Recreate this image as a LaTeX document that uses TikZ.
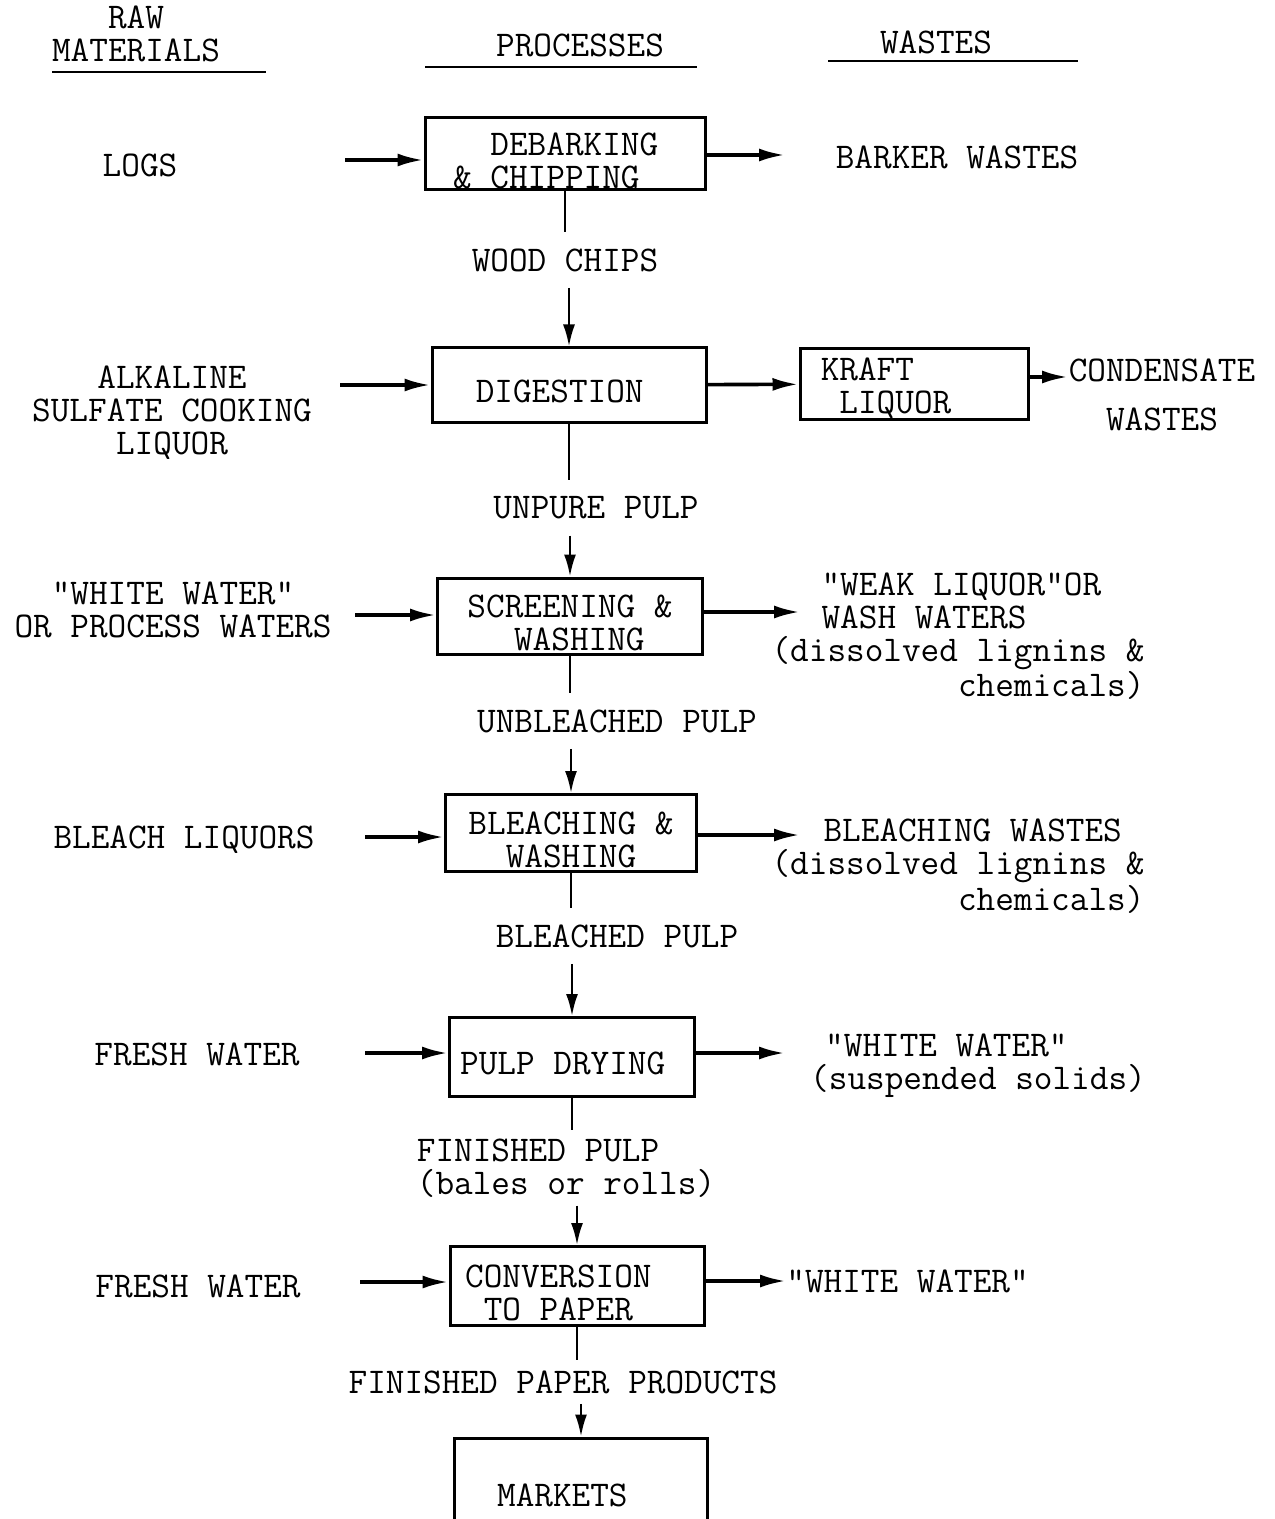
\documentclass[tikz,border=0pt]{standalone}
\usepackage{fontspec}
\usetikzlibrary{arrows.meta}
\newcommand\boxstrut[1][18pt]{\rule{0pt}{#1}}

\begin{document}
\begin{tikzpicture}[x=0.5pt,y=-0.5pt,
txt/.style={font=\ttfamily\fontsize{18.1}{16.5}\selectfont, inner sep=0pt, align=center},
flow/.style={txt, inner ysep=8pt},
procbox/.style={txt, draw, line width=1.5pt},
feed/.style={line width=1.8pt, -{Latex[length=13pt,width=6.5pt]}},
shaft/.style={line width=1.2pt},
drop/.style={line width=1.2pt, -{Latex[length=11pt,width=6pt]}},
rule/.style={line width=1.4pt},
]
\useasboundingbox (0,0) rectangle (1274,1519);
\clip (0,0) rectangle (1274,1519);

% column heads
\node[txt] (rawhead) at (136,34) {RAW\\MATERIALS};
\node[txt] (prochead) at (580,45) {PROCESSES};
\node[txt] (wastehead) at (936,42) {WASTES};
\draw[rule] (52,72) -- (266,72);
\draw[rule] (425,67) -- (697,67);
\draw[rule] (828,61) -- (1078,61);

% process boxes
\node[procbox, align=left, minimum width=140pt, minimum height=36pt] (debark) at (565,154) {\boxstrut\phantom{xx}DEBARKING\phantom{x}\\\& CHIPPING};
\node[procbox, minimum width=137pt, minimum height=37pt] (digest) at (569,385) {\boxstrut DIGESTION\phantom{x}};
\node[procbox, align=left, minimum width=114pt, minimum height=34pt] (kraft) at (914,384) {\boxstrut[16pt]KRAFT\\\phantom{x}LIQUOR\phantom{xxx}};
\node[procbox, minimum width=132.5pt, minimum height=38pt] (screen) at (570,616) {\boxstrut SCREENING \&\\\phantom{x}WASHING};
\node[procbox, minimum width=125.5pt, minimum height=38.5pt] (bleach) at (571,833) {\boxstrut BLEACHING \&\\WASHING};
\node[procbox, minimum width=122.5pt, minimum height=39.5pt] (pulpdry) at (572,1057) {\boxstrut PULP DRYING\phantom{x}};
\node[procbox, align=left, minimum width=127pt, minimum height=39.5pt] (convert) at (577,1286) {\boxstrut CONVERSION\phantom{xx}\\\phantom{x}TO PAPER};
\node[procbox, minimum width=126.5pt, minimum height=51pt] (markets) at (581,1489) {\boxstrut MARKETS\phantom{xx}};

% raw materials
\node[txt] (logs) at (140,165) {LOGS};
\node[txt] (alkaline) at (172,413) {ALKALINE\\SULFATE COOKING\\LIQUOR};
\node[txt] (whitein) at (173,610) {"WHITE WATER"\\OR PROCESS WATERS};
\node[txt] (bleachliq) at (184,840) {BLEACH LIQUORS};
\node[txt] (fresh1) at (197,1054) {FRESH WATER};
\node[txt] (fresh2) at (198,1286) {FRESH WATER};

% wastes
\node[txt] (barker) at (957,157) {BARKER WASTES};
\node[txt] (condensate) at (1162,395) {CONDENSATE\\[8pt]WASTES};
\node[txt, align=left] (weakliq) at (958,636) {\hspace*{25pt}"WEAK LIQUOR"OR\\\hspace*{25pt}WASH WATERS\\(dissolved lignins \&\\\phantom{xxxxxxxxxx}chemicals)};
\node[txt, align=left] (bleachwaste) at (958,866) {\hspace*{26pt}BLEACHING WASTES\\(dissolved lignins \&\\\phantom{xxxxxxxxxx}chemicals)};
\node[txt, align=left] (whiteout) at (978,1066) {\hspace*{7.5pt}"WHITE WATER"\\(suspended solids)};
\node[txt, anchor=west] (whiteout2) at (786,1281) {"WHITE WATER"};

% intermediate products
\node[flow] (chips) at (565,260) {WOOD CHIPS};
\node[flow] (unpure) at (596,508) {UNPURE PULP};
\node[flow] (unbleached) at (617,721) {UNBLEACHED PULP};
\node[flow] (bleached) at (617,936) {BLEACHED PULP};
\node[flow, align=left, inner ysep=4pt] (finpulp) at (566,1168) {FINISHED PULP\\(bales or rolls)};
\node[flow, inner ysep=5pt] (finpaper) at (563,1382) {FINISHED PAPER PRODUCTS};

% arrow ends
\coordinate (logs-a) at (345,160);
\coordinate (barker-a) at (785,155);
\coordinate (alk-a) at (340,385);
\coordinate (cond-a) at (1068,377);
\coordinate (whitein-a) at (355,615);
\coordinate (weak-a) at (800,612);
\coordinate (bleachliq-a) at (365,837);
\coordinate (bleachw-a) at (800,835);
\coordinate (fresh1-a) at (365,1053);
\coordinate (whiteout-a) at (785,1053);
\coordinate (fresh2-a) at (360,1282);

% inputs and outputs
\draw[feed] (logs-a) -- (logs-a -| debark.west);
\draw[feed] (barker-a -| debark.east) -- (barker-a);
\draw[feed] (alk-a) -- (alk-a -| digest.west);
\draw[feed] (digest) -- (kraft);
\draw[feed] (cond-a -| kraft.east) -- (cond-a);
\draw[feed] (whitein-a) -- (whitein-a -| screen.west);
\draw[feed] (weak-a -| screen.east) -- (weak-a);
\draw[feed] (bleachliq-a) -- (bleachliq-a -| bleach.west);
\draw[feed] (bleachw-a -| bleach.east) -- (bleachw-a);
\draw[feed] (fresh1-a) -- (fresh1-a -| pulpdry.west);
\draw[feed] (whiteout-a -| pulpdry.east) -- (whiteout-a);
\draw[feed] (fresh2-a) -- (fresh2-a -| convert.west);
\draw[feed] (convert.east |- whiteout2.west) -- (whiteout2.west);

% main flow
\draw[shaft] (debark.south) -- (debark.south |- chips.north);
\draw[drop] (digest.north |- chips.south) -- (digest.north);
\draw[shaft] (digest.south) -- (digest.south |- unpure.north);
\draw[drop] (screen.north |- unpure.south) -- (screen.north);
\draw[shaft] (screen.south) -- (screen.south |- unbleached.north);
\draw[drop] (bleach.north |- unbleached.south) -- (bleach.north);
\draw[shaft] (bleach.south) -- (bleach.south |- bleached.north);
\draw[drop] (pulpdry.north |- bleached.south) -- (pulpdry.north);
\draw[shaft] (pulpdry.south) -- (pulpdry.south |- finpulp.north);
\draw[drop] (convert.north |- finpulp.south) -- (convert.north);
\draw[shaft] (convert.south) -- (convert.south |- finpaper.north);
\draw[drop] (markets.north |- finpaper.south) -- (markets.north);

\end{tikzpicture}
\end{document}
